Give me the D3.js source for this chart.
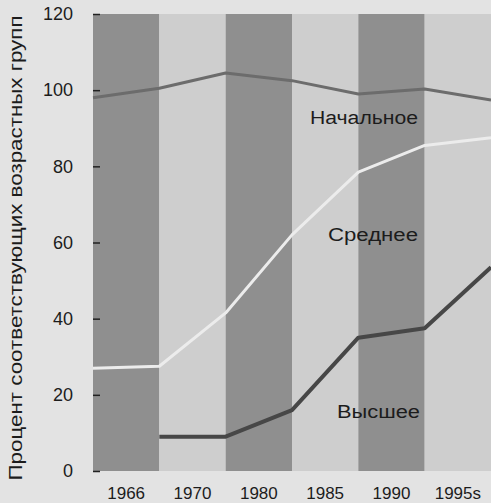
<!DOCTYPE html>
<html>
<head>
<meta charset="utf-8">
<script src="https://cdn.jsdelivr.net/npm/d3@7"></script>
<style>
  body { margin: 0; background: #e3e3e3; }
  svg text { font-family: "Liberation Sans", Arial, sans-serif; fill: #1c1c1c; }
</style>
</head>
<body>
<svg id="chart" width="491" height="503"></svg>
<script>
// periods (one band each) and the year labels under them
const years = ["1966", "1970", "1980", "1985", "1990", "1995s"];
const yTicks = [0, 20, 40, 60, 80, 100, 120];
// values at band edges (7 points)
const primary = [98, 100.5, 104.5, 102.5, 99, 100.3, 97.4];     // Начальное
const secondary = [27, 27.5, 41.5, 62, 78.5, 85.5, 87.5];        // Среднее
const higher = [null, 9, 9, 16, 35, 37.5, 53.5];                 // Высшее
const seriesNames = ["Начальное", "Среднее", "Высшее"];

var svg = d3.select("#chart");
const mLeft = 93, mRight = 491, mTop = 14, mBottom = 471;

var band = d3.scaleBand().domain(years).range([mLeft, mRight]).padding(0);
var xEdge = d3.scalePoint().domain(d3.range(years.length + 1)).range([mLeft, mRight]);
var y = d3.scaleLinear().domain([0, 120]).range([mBottom, mTop]);

// alternating bands
svg.append("g")
    .selectAll("rect")
    .data(years)
    .enter()
    .append("rect")
    .attr("x", d => band(d))
    .attr("y", mTop)
    .attr("width", band.bandwidth())
    .attr("height", mBottom - mTop)
    .attr("fill", (d, i) => i % 2 === 0 ? "#8f8f8f" : "#cecece");

// lines
const lineGen = d3.line()
    .defined(d => d != null)
    .x((d, i) => xEdge(i))
    .y(d => y(d));

const lines = [
    {values: primary, color: "#6c6c6c", width: 3},
    {values: secondary, color: "#ececec", width: 3},
    {values: higher, color: "#474747", width: 4}
];
svg.append("g")
    .selectAll("path")
    .data(lines)
    .enter()
    .append("path")
    .attr("fill", "none")
    .attr("stroke", d => d.color)
    .attr("stroke-width", d => d.width)
    .attr("stroke-linejoin", "round")
    .attr("d", d => lineGen(d.values));

// y axis
var yAxis = svg.append("g")
    .attr("transform", `translate(${mLeft},0)`)
    .call(d3.axisLeft(y).tickValues(yTicks).tickSize(-7).tickPadding(20));
yAxis.select(".domain").remove();
yAxis.selectAll("line").attr("stroke", "#222").attr("stroke-width", 1.5);
yAxis.selectAll("text").attr("font-size", 18).attr("font-family", null);

// x axis
var xAxis = svg.append("g")
    .attr("transform", `translate(0,${mBottom})`)
    .call(d3.axisBottom(band).tickSize(0).tickPadding(16));
xAxis.select(".domain").remove();
xAxis.selectAll("text").attr("font-size", 17).attr("font-family", null);

// y title
svg.append("text")
    .attr("transform", "translate(22,248) rotate(-90)")
    .attr("text-anchor", "middle")
    .attr("font-size", 19)
    .attr("textLength", 465)
    .attr("lengthAdjust", "spacingAndGlyphs")
    .text("Процент соответствующих возрастных групп");

// series labels
const labelPos = [[418, 118, 108], [418, 235, 90], [420, 412, 83]];
svg.append("g")
    .selectAll("text")
    .data(seriesNames)
    .enter()
    .append("text")
    .attr("x", (d, i) => labelPos[i][0] - labelPos[i][2])
    .attr("y", (d, i) => labelPos[i][1])
    .attr("dy", "0.35em")
    .attr("font-size", 18)
    .attr("textLength", (d, i) => labelPos[i][2])
    .attr("lengthAdjust", "spacingAndGlyphs")
    .text(d => d);
</script>
</body>
</html>
